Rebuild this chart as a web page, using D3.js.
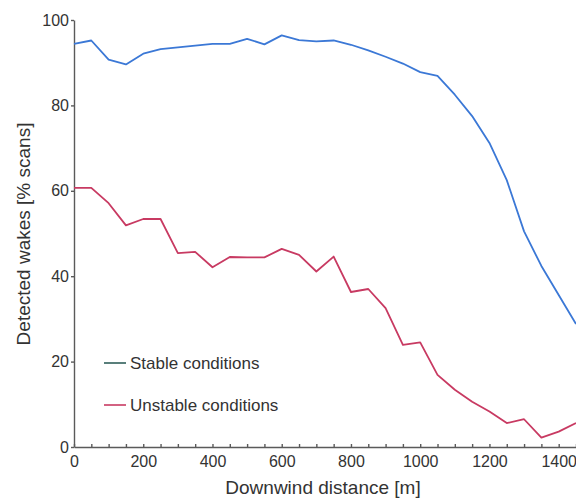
<!DOCTYPE html>
<html>
<head>
<meta charset="utf-8">
<script src="https://cdn.jsdelivr.net/npm/d3@7"></script>
<style>
    body { margin: 0; background: #fff; }
    svg { display: block; font-family: "Liberation Sans", Arial, sans-serif; }
    .axis path, .axis line { stroke: #5a5a5a; stroke-width: 1.4; }
    .axis text { fill: #333; font-size: 16px; }
    .title { fill: #333; font-size: 19px; }
    .legend-label { fill: #333; font-size: 17px; }
</style>
</head>
<body>
<div id="chart"></div>
<script>
// downwind distance [m], one sample every 50 m
var distance = [0, 50, 100, 150, 200, 250, 300, 350, 400, 450, 500, 550, 600, 650, 700,
    750, 800, 850, 900, 950, 1000, 1050, 1100, 1150, 1200, 1250, 1300, 1350, 1400, 1450];

var stable = [94.4, 95.2, 90.7, 89.6, 92.1, 93.2, 93.6, 94.0, 94.4, 94.4, 95.6, 94.3, 96.4, 95.3, 95.0,
    95.2, 94.2, 92.9, 91.4, 89.8, 87.8, 86.9, 82.5, 77.5, 71.2, 62.5, 50.5, 42.4, 35.6, 28.8];

var unstable = [60.7, 60.7, 57.1, 51.9, 53.4, 53.4, 45.4, 45.7, 42.1, 44.5, 44.4, 44.4, 46.4, 45.0, 41.1,
    44.6, 36.3, 37.0, 32.5, 23.9, 24.5, 16.9, 13.4, 10.6, 8.3, 5.6, 6.5, 2.2, 3.6, 5.6];

var xTicks = [0, 200, 400, 600, 800, 1000, 1200, 1400];
var yTicks = [0, 20, 40, 60, 80, 100];

var seriesNames = ['Stable conditions', 'Unstable conditions'];
var seriesColors = ['#3b78d6', '#c83a62'];
var legendColors = ['#2f5f5a', '#c83a62'];

var width = 576;
var height = 500;
var margin = { top: 20, right: 0, bottom: 53, left: 74 };

var x = d3.scaleLinear()
    .domain([0, 1450])
    .range([margin.left, width - margin.right]);

var y = d3.scaleLinear()
    .domain([0, 100])
    .range([height - margin.bottom, margin.top]);

var svg = d3.select('#chart')
    .append('svg')
    .attr('width', width)
    .attr('height', height);

// x axis with small inner ticks every 50 m
var xAxis = svg.append('g')
    .attr('class', 'axis')
    .attr('transform', 'translate(0,' + y(0) + ')')
    .call(d3.axisBottom(x).tickValues(distance).tickSize(-3).tickSizeOuter(0).tickFormat(''));

svg.append('g')
    .attr('class', 'axis')
    .attr('transform', 'translate(0,' + y(0) + ')')
    .call(d3.axisBottom(x).tickValues(xTicks).tickSize(0).tickPadding(5).tickFormat(d3.format('d')))
    .call(function(g) { g.select('.domain').remove(); })
    .selectAll('text')
    .attr('dy', '0.95em');

svg.append('g')
    .attr('class', 'axis')
    .attr('transform', 'translate(' + x(0) + ',0)')
    .call(d3.axisLeft(y).tickValues(yTicks).tickSize(3).tickSizeOuter(0).tickPadding(2));

// lines
var line = d3.line()
    .x(function(d, i) { return x(distance[i]); })
    .y(function(d) { return y(d); });

[stable, unstable].forEach(function(values, i) {
    svg.append('path')
        .datum(values)
        .attr('fill', 'none')
        .attr('stroke', seriesColors[i])
        .attr('stroke-width', 1.8)
        .attr('stroke-linejoin', 'round')
        .attr('d', line);
});

// legend
var legend = svg.append('g')
    .attr('class', 'legend');

seriesNames.forEach(function(name, i) {
    var ly = 363 + i * 42;

    legend.append('line')
        .attr('x1', 104)
        .attr('x2', 126)
        .attr('y1', ly)
        .attr('y2', ly)
        .attr('stroke', legendColors[i])
        .attr('stroke-width', 1.6);

    legend.append('text')
        .attr('class', 'legend-label')
        .attr('x', 130)
        .attr('y', ly + 5.5)
        .text(name);
});

// axis titles
svg.append('text')
    .attr('class', 'title')
    .attr('text-anchor', 'middle')
    .attr('x', 323)
    .attr('y', 494)
    .text('Downwind distance [m]');

svg.append('text')
    .attr('class', 'title')
    .attr('text-anchor', 'middle')
    .attr('transform', 'translate(30,234) rotate(-90)')
    .text('Detected wakes [% scans]');
</script>
</body>
</html>
